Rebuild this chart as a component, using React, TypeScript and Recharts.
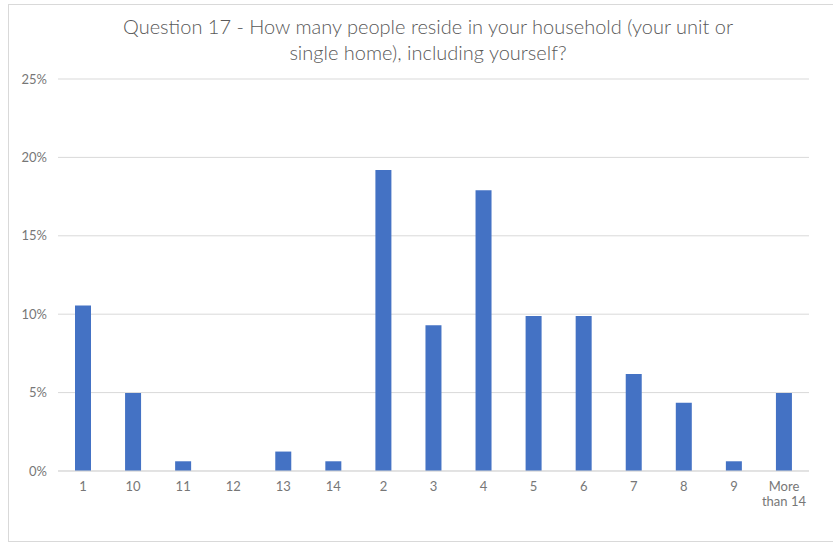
import React from "react";
import { BarChart, Bar, XAxis, YAxis, CartesianGrid } from "recharts";

// household size answers, in the order the survey tool sorted them (as text)
const categories = ["1", "10", "11", "12", "13", "14", "2", "3", "4", "5", "6", "7", "8", "9", "More than 14"];
const shares = [10.56, 4.97, 0.62, 0, 1.24, 0.62, 19.2, 9.29, 17.9, 9.88, 9.88, 6.19, 4.36, 0.62, 4.97];
const yTicks = [0, 5, 10, 15, 20, 25];

const data = categories.map((c, i) => ({ name: c, value: shares[i] }));

const FONT = "Lato, 'Open Sans', sans-serif";
const TICK_COLOR = "#777777";

function CategoryTick(props: any) {
  const { x, y, payload } = props;
  const label: string = payload.value;
  const lines = label === "More than 14" ? ["More", "than 14"] : [label];
  return (
    <text x={x} y={y} textAnchor="middle" fill={TICK_COLOR} fontSize={13} fontFamily={FONT}>
      {lines.map((l, i) => (
        <tspan key={i} x={x} dy={i === 0 ? 12 : 15}>
          {l}
        </tspan>
      ))}
    </text>
  );
}

export default function App() {
  return (
    <div
      style={{
        position: "absolute",
        left: 8,
        top: 4,
        width: 830,
        height: 538,
        border: "1px solid #d9d9d9",
        borderRight: "none",
        boxSizing: "border-box",
        background: "#fff",
        fontFamily: FONT,
      }}
    >
      <div
        style={{
          position: "absolute",
          top: 8,
          left: 0,
          width: 838,
          textAlign: "center",
          fontSize: 20,
          fontWeight: 300,
          lineHeight: "26px",
          color: "#595959",
        }}
      >
        Question 17 - How many people reside in your household (your unit or
        <br />
        single home), including yourself?
      </div>
      <div style={{ position: "absolute", top: 0, left: 0 }}>
        <BarChart
          width={829}
          height={536}
          data={data}
          margin={{ top: 74, right: 29, bottom: 30, left: 0 }}
        >
          <CartesianGrid vertical={false} stroke="#d9d9d9" />
          <XAxis
            dataKey="name"
            interval={0}
            height={40}
            axisLine={{ stroke: "#d9d9d9" }}
            tickLine={false}
            tick={<CategoryTick />}
          />
          <YAxis
            width={49}
            domain={[0, 25]}
            ticks={yTicks}
            axisLine={false}
            tickLine={false}
            tickMargin={5}
            tickFormatter={(v: number) => `${v}%`}
            tick={{ fontSize: 13, fill: TICK_COLOR, fontFamily: FONT }}
          />
          <Bar dataKey="value" fill="#4472c4" barSize={16} isAnimationActive={false} />
        </BarChart>
      </div>
    </div>
  );
}
